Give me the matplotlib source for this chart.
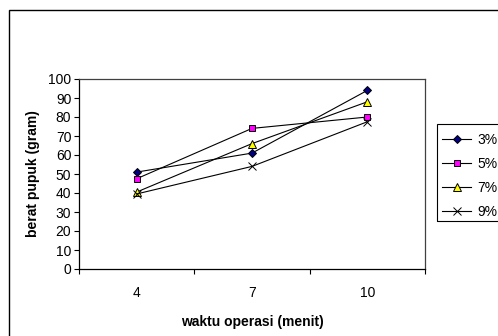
import matplotlib
matplotlib.use("Agg")
import matplotlib.pyplot as plt
from matplotlib.patches import Rectangle
import numpy as np

# Operation time categories (minutes) and fertilizer weight (gram) per concentration
waktu = ["4", "7", "10"]
seri_3 = [51, 61, 94]
seri_5 = [47.5, 74, 80]
seri_7 = [40.5, 66, 88]
seri_9 = [39.5, 54, 77.5]
label_seri = ["3%", "5%", "7%", "9%"]
y_ticks = list(range(0, 101, 10))

W, H = 498, 336
fig = plt.figure(figsize=(W / 100, H / 100), dpi=100)
plt.rcParams["font.family"] = ["Liberation Sans", "DejaVu Sans"]
FS = 10

# outer chart frame (only left and top edges fall inside the image)
fig.patches.append(Rectangle((8.5 / W, -0.2), 1.2, 1.2 - 9.5 / H, transform=fig.transFigure,
                             fill=False, edgecolor="black", linewidth=1.0))

# legend frame, running past the right edge
fig.patches.append(Rectangle((437 / W, 1 - 221 / H), 0.2, (221 - 124) / H,
                             transform=fig.transFigure, fill=False,
                             edgecolor="black", linewidth=0.8))

left, right, top, bottom = 79, 425, 79, 269
ax = fig.add_axes([left / W, 1 - bottom / H, (right - left) / W, (bottom - top) / H])

x = np.arange(len(waktu)) + 0.5
styles = [
    dict(marker="D", markersize=4.5, markerfacecolor="#000080", markeredgecolor="black"),
    dict(marker="s", markersize=5, markerfacecolor="#FF00FF", markeredgecolor="black"),
    dict(marker="^", markersize=5.5, markerfacecolor="#FFFF00", markeredgecolor="black"),
    dict(marker="x", markersize=5.5, markeredgecolor="black"),
]
for vals, lab, st in zip([seri_3, seri_5, seri_7, seri_9], label_seri, styles):
    ax.plot(x, vals, color="black", linewidth=0.8, markeredgewidth=0.7, label=lab, **st)

ax.set_xlim(0, len(waktu))
ax.set_ylim(0, 100)
ax.set_yticks(y_ticks)
ax.set_xticks(np.arange(len(waktu) + 1), minor=False)
ax.set_xticklabels([])
ax.set_xticks(x, minor=True)
ax.set_xticklabels(waktu, minor=True)
ax.tick_params(axis="x", which="minor", length=0, labelsize=FS, pad=12)
ax.tick_params(axis="x", which="major", length=3.5, width=0.8, direction="out")
ax.tick_params(axis="y", length=3.5, width=0.8, direction="out", labelsize=FS, pad=2)

for s in ["top", "right"]:
    ax.spines[s].set_color("#404040")
    ax.spines[s].set_linewidth(0.9)
for s in ["left", "bottom"]:
    ax.spines[s].set_color("black")
    ax.spines[s].set_linewidth(0.9)

ax.set_xlabel("waktu operasi (menit)", fontsize=FS, fontweight="bold", labelpad=11)
ax.set_ylabel("berat pupuk (gram)", fontsize=FS, fontweight="bold", labelpad=6)

ax.legend(loc="upper left", bbox_to_anchor=(442 / W, 1 - 132.5 / H),
          bbox_transform=fig.transFigure, frameon=False,
          fontsize=FS, handlelength=2.1, handletextpad=0.43,
          labelspacing=0.72, borderpad=0, borderaxespad=0)

fig.savefig("out.png", dpi=100)
